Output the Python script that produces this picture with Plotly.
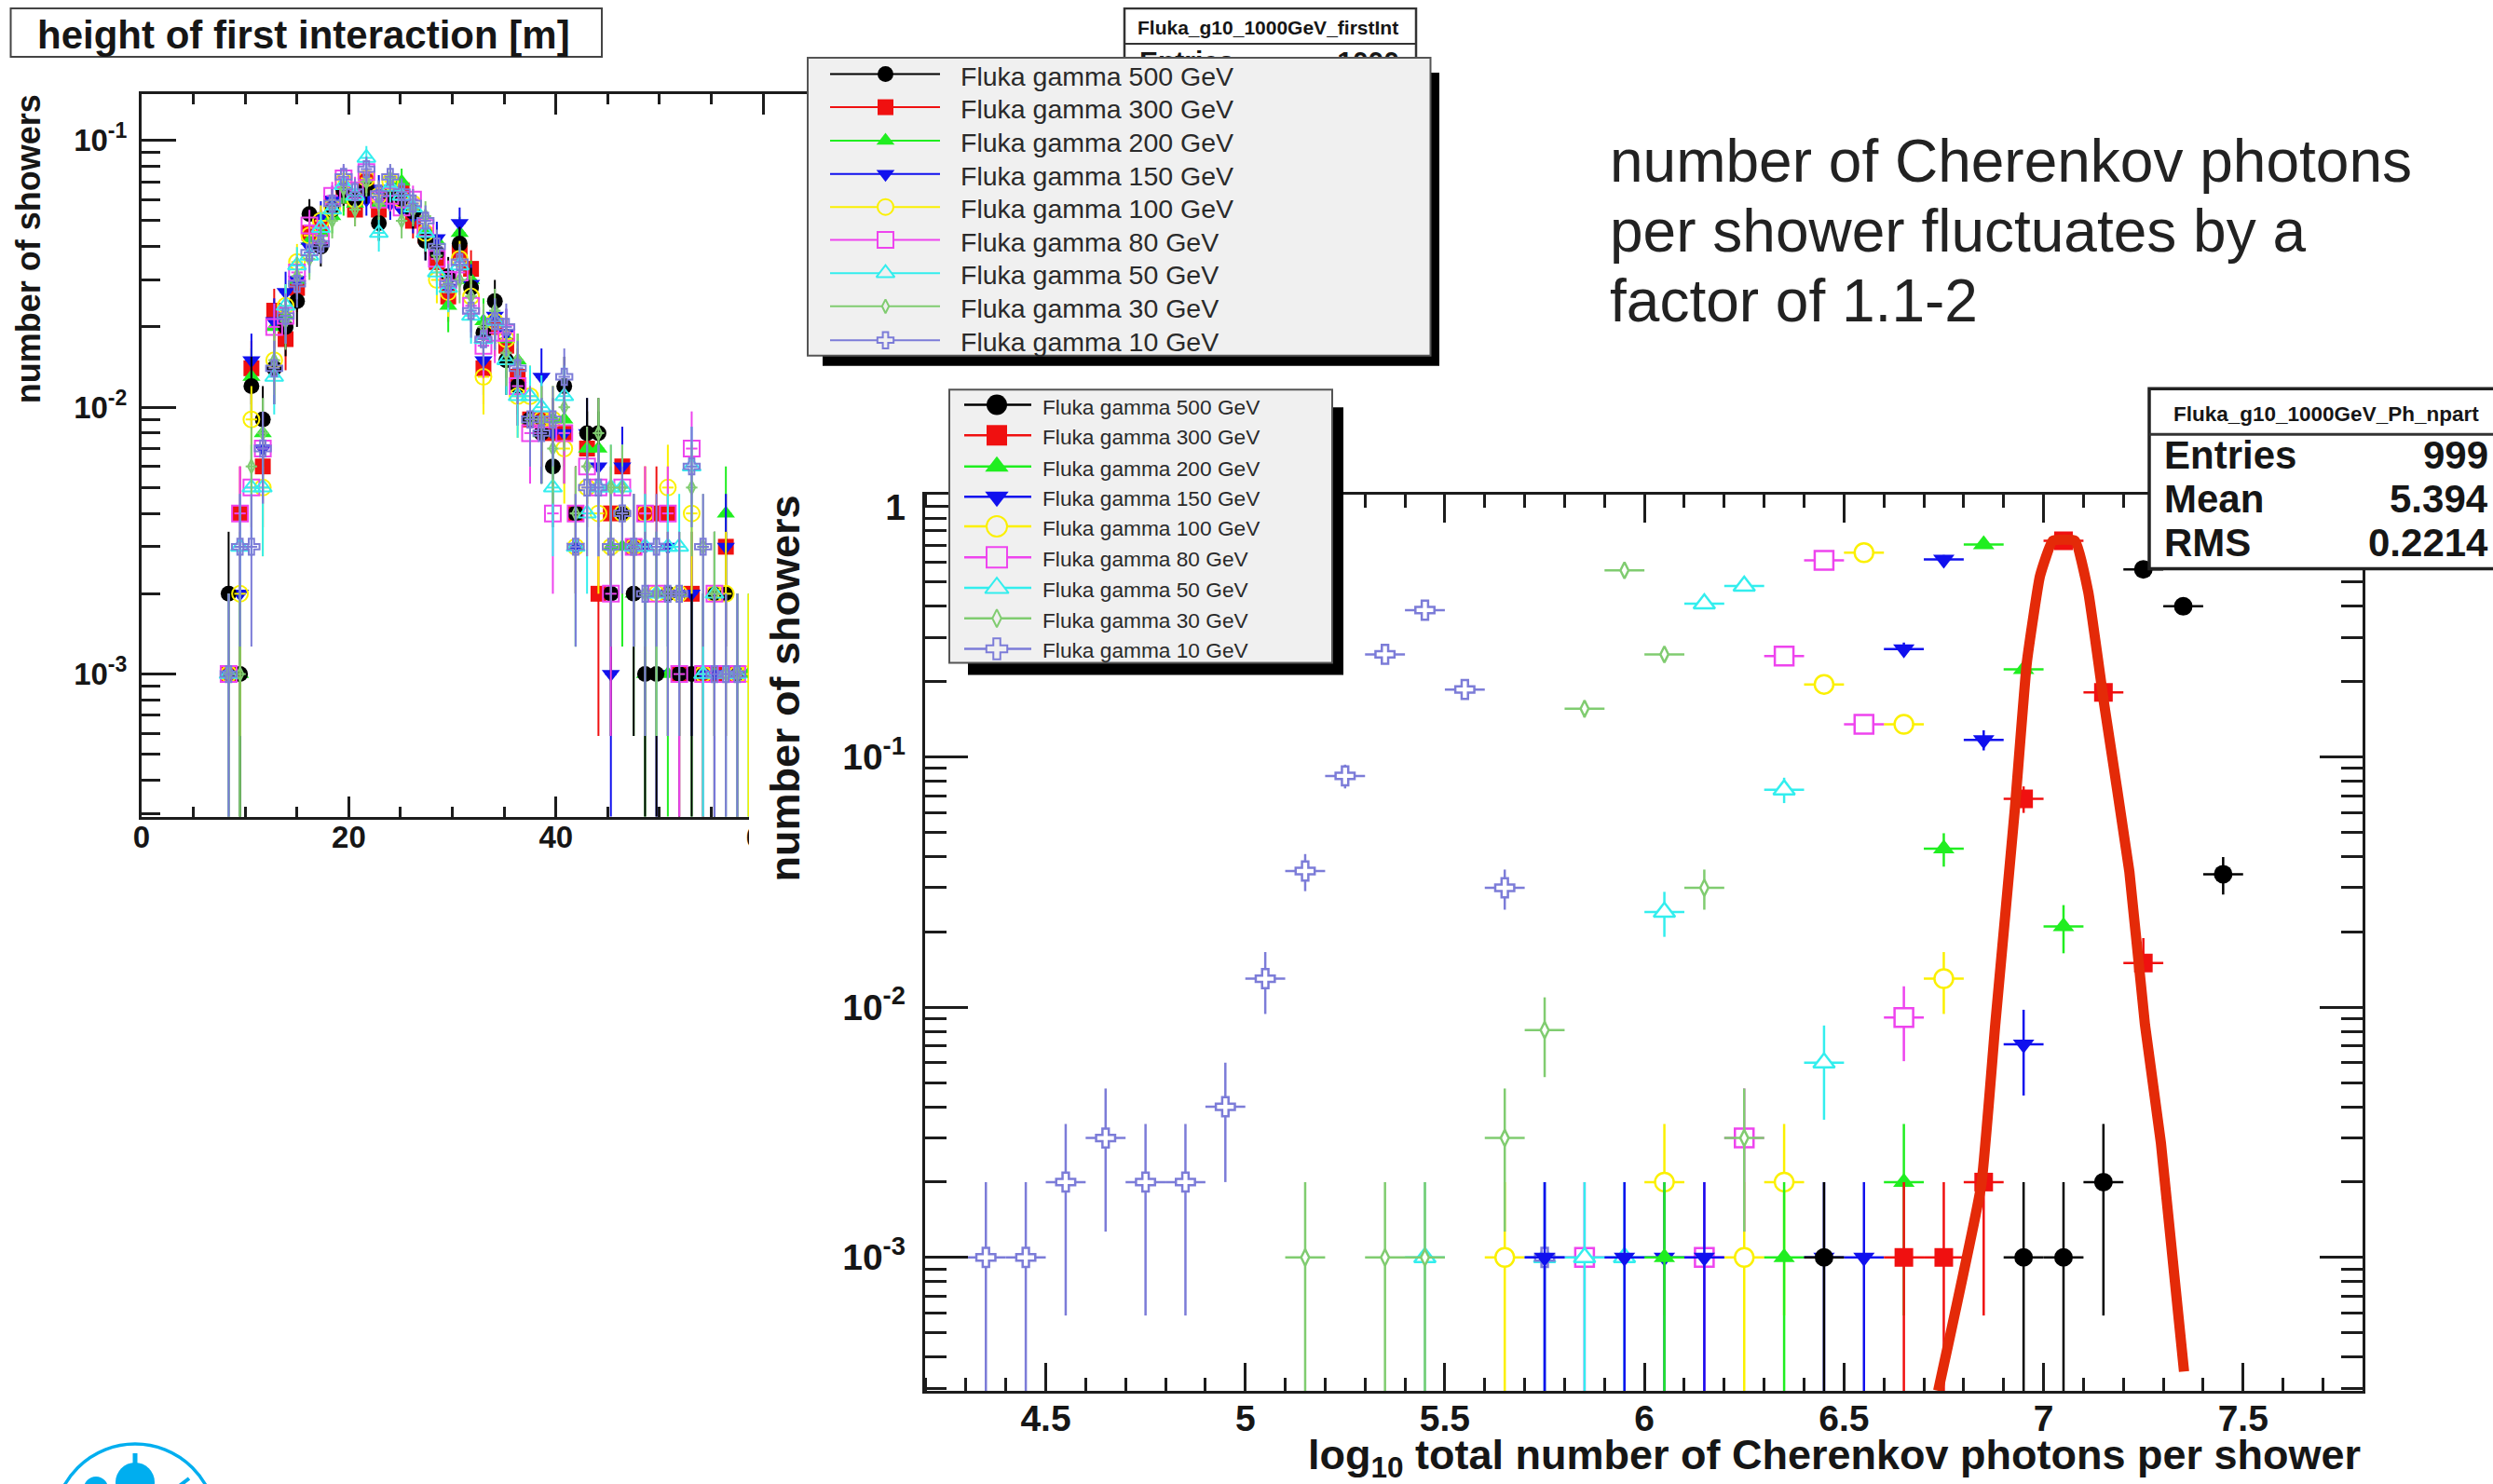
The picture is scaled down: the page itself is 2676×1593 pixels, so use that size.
import math
import plotly.graph_objects as go

W, H = 2676, 1593
# plotly reserves this many pixels on the left and top of this figure; paper fractions are mapped past it
INSET_L, INSET_T = 9, 9
FONT = "Liberation Sans"
INK = "#161616"

SERIES_NAMES = ["Fluka gamma 500 GeV", "Fluka gamma 300 GeV", "Fluka gamma 200 GeV", "Fluka gamma 150 GeV",
                "Fluka gamma 100 GeV", "Fluka gamma 80 GeV", "Fluka gamma 50 GeV", "Fluka gamma 30 GeV",
                "Fluka gamma 10 GeV"]
SERIES_COLORS = ["#000000", "#f01010", "#20ee20", "#1010ee", "#fbf000", "#ee44ee", "#33eeee", "#80cc70", "#7c7cd8"]
SERIES_SYMBOLS = ["circle", "square", "triangle-up", "triangle-down", "circle", "square", "triangle-up",
                  "diamond-tall", "cross"]
SERIES_SCALE = [1, 1, 1, 1, 1, 1, 1, 0.62, 0.85]
SERIES_OPEN = [False, False, False, False, True, True, True, True, True]
DRAW_ORDER_LEFT = [1, 2, 3, 0, 4, 5, 6, 7, 8]
DRAW_ORDER_RIGHT = [4, 5, 6, 7, 8, 3, 2, 1, 0]

# ---- left panel: height of first interaction, counts per 1000 showers
HEIGHT_BINS = [8.4, 9.5, 10.6, 11.7, 12.8, 13.9, 15.0, 16.2, 17.3, 18.4, 19.5, 20.6, 21.7, 22.9, 24.0, 25.1,
               26.2, 27.4, 28.5, 29.6, 30.7, 31.8, 33.0, 34.1, 35.2, 36.3, 37.5, 38.6, 39.7, 40.8, 41.9, 43.0,
               44.1, 45.3, 46.4, 47.5, 48.6, 49.7, 50.8, 51.9, 53.1, 54.2, 55.3, 56.4, 57.5, 58.6]
H500 = [2, 1, 12, 9, 14, 20, 25, 53, 40, 55, 65, 60, 66, 49, 62, 60, 54, 42, 38, 31, 41, 28, 19, 25, 15, 12, 9, 8,
        6, 12, 4, 8, 8, 2, 4, 2, 1, 1, 2, 1, 1, 0, 2, 2, 1, 0]
H300 = [1, 4, 14, 6, 23, 18, 28, 45, 48, 58, 62, 55, 70, 55, 62, 65, 50, 44, 35, 26, 38, 33, 14, 20, 17, 13, 9, 9,
        8, 8, 4, 7, 2, 4, 6, 3, 4, 4, 4, 1, 2, 1, 1, 3, 1, 0]
H200 = [1, 1, 13, 8, 20, 22, 30, 42, 45, 52, 60, 58, 65, 58, 60, 70, 55, 46, 42, 24, 45, 30, 21, 22, 18, 15, 9, 8,
        9, 9, 3, 7, 7, 3, 3, 2, 1, 2, 1, 2, 1, 1, 1, 4, 1, 1]
H150 = [1, 2, 15, 7, 21, 27, 30, 40, 52, 60, 66, 62, 60, 66, 58, 55, 52, 42, 43, 28, 49, 29, 15, 22, 19, 12, 9, 13,
        8, 8, 3, 8, 6, 1, 6, 3, 3, 1, 3, 2, 2, 1, 1, 3, 1, 0]
H100 = [1, 2, 9, 5, 15, 24, 35, 44, 50, 56, 70, 60, 72, 62, 70, 60, 58, 45, 30, 27, 36, 26, 13, 21, 18, 11, 11, 9,
        9, 7, 3, 5, 4, 3, 4, 3, 4, 2, 5, 2, 4, 1, 2, 2, 1, 1]
H80 = [1, 4, 5, 7, 20, 22, 32, 48, 44, 62, 72, 65, 76, 60, 62, 56, 60, 47, 36, 30, 32, 24, 17, 19, 19, 12, 8, 9,
       4, 8, 4, 6, 5, 2, 5, 3, 4, 2, 4, 1, 7, 1, 2, 1, 1, 0]
H50 = [1, 3, 5, 5, 13, 24, 34, 37, 47, 55, 68, 62, 86, 45, 67, 62, 56, 45, 32, 28, 34, 22, 18, 21, 15, 11, 11, 10,
       5, 11, 3, 4, 5, 5, 5, 3, 3, 2, 3, 3, 6, 1, 2, 1, 1, 0]
H30 = [1, 1, 6, 8, 15, 21, 31, 36, 42, 50, 66, 55, 70, 58, 72, 50, 55, 52, 37, 29, 30, 26, 20, 23, 16, 15, 9, 9,
       7, 10, 4, 6, 8, 5, 5, 3, 2, 2, 2, 2, 5, 3, 2, 1, 1, 0]
H10 = [1, 3, 3, 7, 14, 22, 29, 38, 41, 58, 73, 64, 78, 63, 73, 64, 58, 50, 40, 29, 35, 23, 18, 21, 20, 14, 9, 8,
       9, 13, 3, 5, 5, 3, 4, 3, 2, 3, 2, 2, 6, 3, 1, 1, 1, 0]
HEIGHT_COUNTS = [H500, H300, H200, H150, H100, H80, H50, H30, H10]

# ---- right panel: log10 number of Cherenkov photons per shower, fraction of showers
P500_X = [6.45, 6.95, 7.05, 7.15, 7.25, 7.35, 7.45]
P500_Y = [0.001, 0.001, 0.001, 0.002, 0.562, 0.40, 0.034]
P300_X = [6.65, 6.75, 6.85, 6.95, 7.05, 7.15, 7.25]
P300_Y = [0.001, 0.001, 0.002, 0.068, 0.731, 0.181, 0.015]
P200_X = [6.05, 6.35, 6.65, 6.75, 6.85, 6.95, 7.05]
P200_Y = [0.001, 0.001, 0.002, 0.043, 0.706, 0.224, 0.021]
P150_X = [5.75, 5.95, 6.05, 6.15, 6.45, 6.55, 6.65, 6.75, 6.85, 6.95]
P150_Y = [0.001, 0.001, 0.001, 0.001, 0.001, 0.001, 0.27, 0.616, 0.117, 0.0071]
P100_X = [5.65, 6.05, 6.25, 6.35, 6.45, 6.55, 6.65, 6.75]
P100_Y = [0.001, 0.002, 0.001, 0.002, 0.195, 0.655, 0.135, 0.013]
P80_X = [5.85, 6.15, 6.25, 6.35, 6.45, 6.55, 6.65]
P80_Y = [0.001, 0.001, 0.003, 0.253, 0.61, 0.135, 0.0091]
P50_X = [5.45, 5.75, 5.85, 5.95, 6.05, 6.15, 6.25, 6.35, 6.45]
P50_Y = [0.001, 0.001, 0.001, 0.001, 0.024, 0.41, 0.482, 0.074, 0.006]
P30_X = [5.15, 5.35, 5.45, 5.65, 5.75, 5.85, 5.95, 6.05, 6.15, 6.25]
P30_Y = [0.001, 0.001, 0.001, 0.003, 0.0081, 0.156, 0.557, 0.257, 0.03, 0.003]
P10_X = [4.35, 4.45, 4.55, 4.65, 4.75, 4.85, 4.95, 5.05, 5.15, 5.25, 5.35, 5.45, 5.55, 5.65, 5.75]
P10_Y = [0.001, 0.001, 0.002, 0.003, 0.002, 0.002, 0.004, 0.013, 0.035, 0.084, 0.257, 0.386, 0.186, 0.03, 0.001]
PHOTON_X = [P500_X, P300_X, P200_X, P150_X, P100_X, P80_X, P50_X, P30_X, P10_X]
PHOTON_Y = [P500_Y, P300_Y, P200_Y, P150_Y, P100_Y, P80_Y, P50_Y, P30_Y, P10_Y]

# hand-drawn red envelope over the 300 GeV points
ENV_X = [6.736, 6.844, 6.879, 6.928, 6.958, 6.991, 7.023, 7.079, 7.112, 7.152, 7.215, 7.254, 7.294, 7.352]
ENV_Y = [0.000293, 0.00195, 0.00853, 0.0618, 0.2377, 0.528, 0.731, 0.731, 0.456, 0.162, 0.0348, 0.00853, 0.00287,
         0.00035]

LEGEND_L_ROWS = [80.5, 116, 152, 187.6, 223, 258.4, 294, 329.6, 366]
LEGEND_R_ROWS = [435.3, 468, 501.4, 534, 565.6, 599, 631.7, 664.3, 697]

NOTE_LINES = ["number of Cherenkov photons", "per shower fluctuates by a", "factor of 1.1-2"]
STATS_ROWS = [("Entries", "999"), ("Mean", "5.394"), ("RMS", "0.2214")]


def fx(px):
    return (px - INSET_L) / (W - INSET_L)


def fy(px):
    return 1 - (px - INSET_T) / (H - INSET_T)


def dom_x(a, b):
    return [fx(a), fx(b)]


def dom_y(top, bottom):
    return [fy(bottom), fy(top)]


fig = go.Figure()


def add_points(xs, ys, i, xa, ya, half, msize, lw, open_fill):
    color = SERIES_COLORS[i]
    errs = [math.sqrt(v * 1000) / 1000 for v in ys]
    marker = dict(symbol=SERIES_SYMBOLS[i], size=msize * SERIES_SCALE[i], opacity=1,
                  color=open_fill if SERIES_OPEN[i] else color,
                  line=dict(color=color, width=lw if SERIES_OPEN[i] else 0))
    fig.add_trace(go.Scatter(
        x=xs, y=ys, mode="markers", xaxis=xa, yaxis=ya, name=SERIES_NAMES[i], showlegend=False,
        marker=marker,
        error_y=dict(type="data", array=errs, color=color, thickness=lw, width=0),
        error_x=dict(type="constant", value=half, color=color, thickness=lw, width=0),
    ))


for i in DRAW_ORDER_LEFT:
    pairs = [(x, c / 1000) for x, c in zip(HEIGHT_BINS, HEIGHT_COUNTS[i]) if c > 0]
    add_points([p[0] for p in pairs], [p[1] for p in pairs], i, "x", "y", 0.555, 17, 2, "rgba(255,255,255,0)")

for i in DRAW_ORDER_RIGHT:
    add_points(PHOTON_X[i], PHOTON_Y[i], i, "x2", "y2", 0.05, 20, 2.5, "white")

fig.add_trace(go.Scatter(x=ENV_X, y=ENV_Y, mode="lines", xaxis="x2", yaxis="y2", showlegend=False,
                         name="envelope", line=dict(color="#e42a08", width=11, shape="spline", smoothing=0.35)))

# stats text of the left panel, partly hidden by its legend
fig.add_trace(go.Scatter(x=[1223], y=[69], xaxis="x3", yaxis="y3", mode="text", text=["Entries"],
                         textposition="middle right", showlegend=False,
                         textfont=dict(family=FONT, size=30, color=INK, weight="bold")))
fig.add_trace(go.Scatter(x=[1502], y=[69], xaxis="x3", yaxis="y3", mode="text", text=["1000"],
                         textposition="middle left", showlegend=False,
                         textfont=dict(family=FONT, size=30, color=INK, weight="bold")))


def legend_samples(rows, x0, xc, x1, msize, lw):
    for i, yy in enumerate(rows):
        color = SERIES_COLORS[i]
        fig.add_trace(go.Scatter(
            x=[x0, xc, x1], y=[yy, yy, yy], xaxis="x4", yaxis="y4", mode="lines+markers", showlegend=False,
            name=SERIES_NAMES[i], line=dict(color=color, width=lw),
            marker=dict(symbol=SERIES_SYMBOLS[i], size=[0, msize * SERIES_SCALE[i], 0], opacity=1,
                        color="#f0f0f0" if SERIES_OPEN[i] else color,
                        line=dict(color=color, width=2 if SERIES_OPEN[i] else 0)),
        ))


legend_samples(LEGEND_L_ROWS, 891, 950.5, 1009, 17, 2)
legend_samples(LEGEND_R_ROWS, 1035, 1070, 1107, 22, 2.5)


def rect(layer_ax, x0, y0, x1, y1, fill, line=None, lw=0):
    return dict(type="rect", xref=layer_ax[0], yref=layer_ax[1], x0=x0, y0=y0, x1=x1, y1=y1, layer="below",
                fillcolor=fill, line=dict(color=line or fill, width=lw))


A3 = ("x3", "y3")
A4 = ("x4", "y4")
LOGO = "#00aeef"
shapes = [
    rect(A3, 804, 140, 874, 1000, "white"),
    rect(A3, 11.5, 10, 646, 62, "white", "#444444", 2),
    rect(A3, 1207, 10, 1520, 120, "white", "#333333", 2.5),
    dict(type="line", xref="x3", yref="y3", x0=1207, x1=1520, y0=48, y1=48, layer="below",
         line=dict(color="#333333", width=2)),
    # logo cut off by the page edge
    dict(type="circle", xref="x3", yref="y3", x0=58, x1=232, y0=1550, y1=1724, layer="below",
         line=dict(color=LOGO, width=3.5), fillcolor="white"),
    dict(type="circle", xref="x3", yref="y3", x0=124, x1=166, y0=1570, y1=1612, layer="below",
         line=dict(color=LOGO, width=0), fillcolor=LOGO),
    dict(type="line", xref="x3", yref="y3", x0=145, x1=145, y0=1560, y1=1574, layer="below",
         line=dict(color=LOGO, width=5)),
    dict(type="circle", xref="x3", yref="y3", x0=90, x1=116, y0=1585, y1=1611, layer="below",
         line=dict(color=LOGO, width=0), fillcolor=LOGO),
    dict(type="line", xref="x3", yref="y3", x0=203, x1=186, y0=1587, y1=1600, layer="below",
         line=dict(color=LOGO, width=4)),
    # left legend
    rect(A4, 883, 79, 1545, 393.5, "black"),
    rect(A4, 867, 63, 1535.5, 382.5, "#f0f0f0", "#555555", 2),
    # right legend
    rect(A4, 1039, 438, 1442, 725, "black"),
    rect(A4, 1019, 419, 1430, 712, "#f0f0f0", "#555555", 2),
    # right stats box
    rect(A4, 2307, 418, 2690, 611, "white", "#222222", 3.5),
    dict(type="line", xref="x4", yref="y4", x0=2307, x1=2690, y0=467, y1=467, layer="below",
         line=dict(color="#333333", width=3)),
]


def note(x, y, text, size, bold=False, color=INK, anchor="left", angle=0):
    return dict(xref="paper", yref="paper", x=fx(x), y=fy(y), text=("<b>%s</b>" % text) if bold else text,
                showarrow=False, xanchor=anchor, yanchor="middle", textangle=angle, align=anchor,
                font=dict(family=FONT, size=size, color=color))


annotations = [
    note(326, 38, "height of first interaction [m]", 42, True, anchor="center"),
    note(30, 268, "number of showers", 36, True, anchor="center", angle=-90),
    note(842, 740, "number of showers", 45, True, anchor="center", angle=-90),
    note(2536, 1565, "log<sub>10</sub> total number of Cherenkov photons per shower", 45, True, anchor="right"),
    note(1361, 30, "Fluka_g10_1000GeV_firstInt", 21, True, anchor="center"),
    note(2497, 445, "Fluka_g10_1000GeV_Ph_npart", 22.5, True, anchor="center"),
]
for k, line in enumerate(NOTE_LINES):
    annotations.append(note(1726, 174 + 75 * k, line, 64, color="#222222"))
for k, (lab, val) in enumerate(STATS_ROWS):
    annotations.append(note(2321, 489 + 47 * k, lab, 42, True))
    annotations.append(note(2673, 489 + 47 * k, val, 42, True, anchor="right"))
for k, yy in enumerate(LEGEND_L_ROWS):
    annotations.append(note(1029, yy + 2, SERIES_NAMES[k], 28.5, color="#2a2a2a"))
for k, yy in enumerate(LEGEND_R_ROWS):
    annotations.append(note(1117, yy + 2, SERIES_NAMES[k], 22.7, color="#2a2a2a"))

AX_LINE = dict(showline=True, linecolor="#1c1c1c", linewidth=3, showgrid=False, zeroline=False)
LEFT_TICKS = dict(family=FONT, size=33, color=INK, weight="bold")
RIGHT_TICKS = dict(family=FONT, size=39, color=INK, weight="bold")


def sup(exp):
    return "10<sup>%d</sup>" % exp


fig.update_layout(
    width=W, height=H, autosize=False, margin=dict(l=0, r=0, t=0, b=0),
    paper_bgcolor="white", plot_bgcolor="rgba(0,0,0,0)", showlegend=False,
    shapes=shapes, annotations=annotations,
    xaxis=dict(domain=dom_x(152, 868), range=[0, 64.39], anchor="y", tick0=0, dtick=20, ticks="inside", ticklen=22,
               tickwidth=2.5, tickcolor="#1c1c1c", mirror="ticks", tickfont=LEFT_TICKS, ticklabelstandoff=-9,
               minor=dict(ticks="inside", ticklen=11, tickwidth=2.5, tickcolor="#1c1c1c", dtick=5, tick0=0),
               **AX_LINE),
    yaxis=dict(domain=dom_y(101.8, 877), type="log", range=[-3.534, -0.826], anchor="x",
               tickmode="array", tickvals=[0.001, 0.01, 0.1], ticktext=[sup(-3), sup(-2), sup(-1)],
               ticks="inside", ticklen=37, tickwidth=2.5, tickcolor="#1c1c1c", tickfont=LEFT_TICKS,
               ticklabelstandoff=6,
               minor=dict(ticks="inside", ticklen=20, tickwidth=2.5, tickcolor="#1c1c1c", dtick="D1"),
               **AX_LINE),
    xaxis2=dict(domain=dom_x(992.7, 2536.3), range=[4.197, 7.8], anchor="y2", tick0=4.5, dtick=0.5, ticks="inside",
                ticklen=30, tickwidth=2.5, tickcolor="#1c1c1c", mirror="ticks", tickfont=RIGHT_TICKS,
                ticklabelstandoff=-7,
                minor=dict(ticks="inside", ticklen=14, tickwidth=2.5, tickcolor="#1c1c1c", dtick=0.1, tick0=4.5),
                **AX_LINE),
    yaxis2=dict(domain=dom_y(531.7, 1493), type="log", range=[-3.533, 0.048], anchor="x2",
                tickmode="array", tickvals=[0.001, 0.01, 0.1, 1], ticktext=[sup(-3), sup(-2), sup(-1), "1"],
                ticks="inside", ticklen=46, tickwidth=2.5, tickcolor="#1c1c1c", mirror="ticks",
                tickfont=RIGHT_TICKS, ticklabelstandoff=10,
                minor=dict(ticks="inside", ticklen=23, tickwidth=2.5, tickcolor="#1c1c1c", dtick="D1"),
                **AX_LINE),
    xaxis3=dict(domain=[0, 1], range=[INSET_L, W], anchor="y3", visible=False, fixedrange=True),
    yaxis3=dict(domain=[0, 1], range=[H, INSET_T], anchor="x3", visible=False, fixedrange=True),
    xaxis4=dict(domain=[0, 1], range=[INSET_L, W], anchor="y4", visible=False, fixedrange=True),
    yaxis4=dict(domain=[0, 1], range=[H, INSET_T], anchor="x4", visible=False, fixedrange=True),
)

fig.write_html("out.html", post_script="document.body.style.margin='0';", config=dict(displayModeBar=False))
